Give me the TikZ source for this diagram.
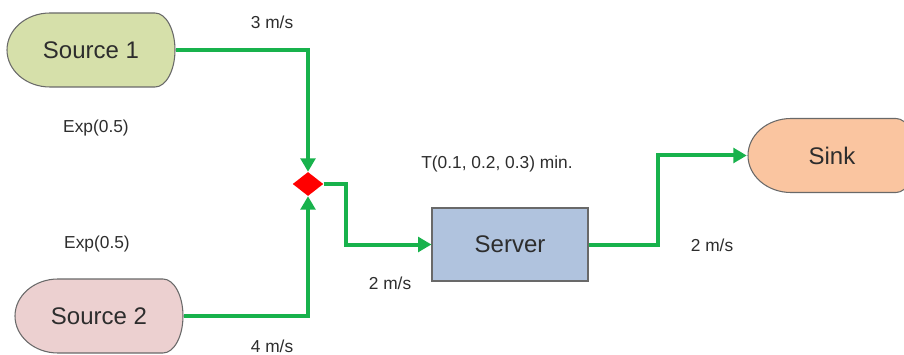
\documentclass[tikz,border=0pt]{standalone}
\usepackage{fontspec}
\setmainfont{Liberation Sans}
\usetikzlibrary{shapes.geometric}
\usetikzlibrary{arrows.meta}

\definecolor{flowgreen}{RGB}{24,178,76}
\definecolor{edgegray}{RGB}{105,105,105}
\definecolor{textgray}{RGB}{45,45,45}
\definecolor{srcgreen}{RGB}{214,224,170}
\definecolor{srcpink}{RGB}{236,208,208}
\definecolor{sinkpeach}{RGB}{250,197,160}
\definecolor{serverblue}{RGB}{176,195,222}

\begin{document}
\begin{tikzpicture}[x=0.75pt, y=0.75pt,
    blob/.style={rectangle, inner sep=0pt, minimum width=127.5pt, minimum height=57.75pt,
      text=textgray, font=\fontsize{18}{20}\selectfont,
      path picture={
        \filldraw[fill=#1, draw=edgegray, line width=0.8pt]
          ([xshift=-30.75pt, yshift=27.75pt]path picture bounding box.center) -- ++(105,0)
          arc (90:-90:15pt and 27.75pt) -- ++(-105,0)
          arc (270:90:32.25pt and 27.75pt) -- cycle;}},
    box/.style={rectangle, draw=edgegray, line width=0.8pt, fill=serverblue, text=textgray,
      minimum width=117pt, minimum height=54.75pt, font=\fontsize{18}{20}\selectfont},
    merge/.style={diamond, fill=red, inner sep=0pt, minimum width=23pt, minimum height=18pt},
    lbl/.style={text=textgray, font=\fontsize{13}{15}\selectfont},
    flow/.style={draw=flowgreen, line width=3pt, -{Triangle[length=10pt,width=11pt]}}]
  \useasboundingbox (0,0) rectangle (904,354);

  \node[blob=srcgreen] (src1) at (91,304) {Source 1};
  \node[blob=srcpink] (src2) at (99,38) {Source 2};
  \node[blob=sinkpeach] (sink) at (832,198.5) {Sink};
  \node[merge] (join) at (308,170) {};
  \node[box] (server) at (510,109.5) {Server};

  \node[lbl] (rate1) at (272,332) {3 m/s};
  \node[lbl] (rate2) at (272,8) {4 m/s};
  \node[lbl] (rate3) at (390,71) {2 m/s};
  \node[lbl] (rate4) at (712,109) {2 m/s};
  \node[lbl] (arr1) at (96,226) {Exp(0.5)};
  \node[lbl] (arr2) at (97,110) {Exp(0.5)};
  \node[lbl] (svc) at (497,190) {T(0.1, 0.2, 0.3) min.};

  \draw[flow] (src1.east) -| (join.north);
  \draw[flow] (src2.east) -| (join.south);
  \draw[flow] (join.east) -- ++(22,0) |- (server.west);
  \draw[flow] (server.east) -- ++(69,0) |- (sink.west);
\end{tikzpicture}
\end{document}
